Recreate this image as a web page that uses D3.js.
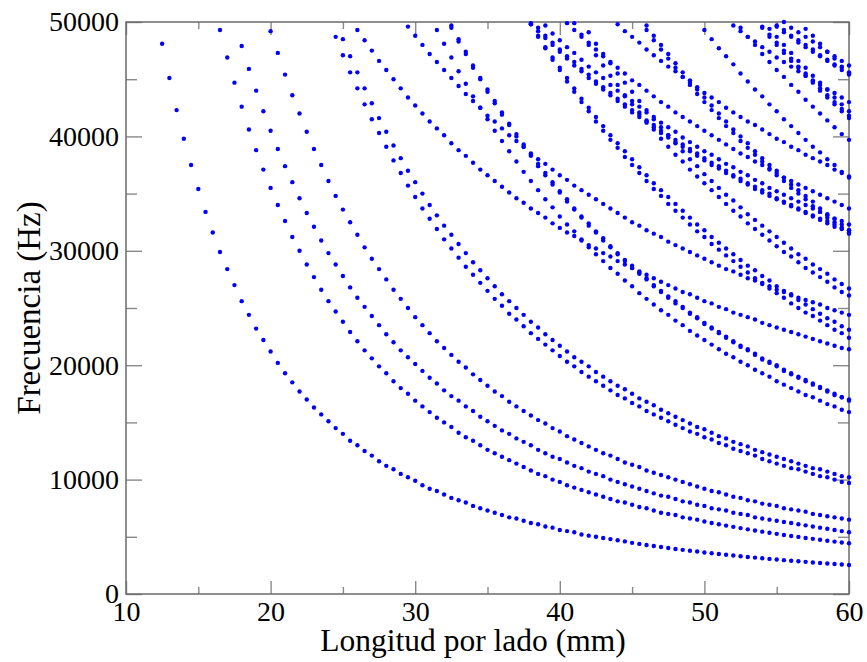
<!DOCTYPE html>
<html>
<head>
<meta charset="utf-8">
<script src="https://cdn.jsdelivr.net/npm/d3@7"></script>
<style>
  html, body { margin: 0; padding: 0; background: #fff; }
  svg { display: block; }
</style>
</head>
<body>
<svg id="chart" width="867" height="662"></svg>
<script>
// Longitud por lado (mm): every curve is sampled on this grid, each one ends at 60 mm
const lengths = [12.5,13,13.5,14,14.5,15,15.5,16,16.5,17,17.5,18,18.5,19,19.5,20,20.5,21,21.5,22,22.5,23,23.5,24,
  24.5,25,25.5,26,26.5,27,27.5,28,28.5,29,29.5,30,30.5,31,31.5,32,32.5,33,33.5,34,34.5,35,35.5,36,36.5,37,
  37.5,38,38.5,39,39.5,40,40.5,41,41.5,42,42.5,43,43.5,44,44.5,45,45.5,46,46.5,47,47.5,48,48.5,49,49.5,50,
  50.5,51,51.5,52,52.5,53,53.5,54,54.5,55,55.5,56,56.5,57,57.5,58,58.5,59,59.5,60];

// Frecuencia (Hz) of each mode (last value = 60 mm)
const modo01 = [48100,45100,42300,39800,37500,35400,33400,31600,29900,28400,27000,25600,24400,23200,22200,21200,20200,19300,18500,17700,17000,16300,15700,15100,14500,
  14000,13400,13000,12500,12100,11600,11200,10900,10500,10200,9900,9500,9200,9000,8700,8400,8200,8000,7700,7500,7300,7100,6900,6700,6600,
  6400,6200,6100,5900,5800,5600,5500,5400,5200,5100,5000,4900,4800,4700,4600,
  4470,4380,4280,4190,4110,4020,3940,3860,3780,3710,3630,3560,3500,3430,3360,3300,3240,3180,3120,3070,3010,2960,2910,2860,2810,2760,2710,2670,2620,2580,2535];
const modo02 = [49300,46900,44700,42600,40600,38800,37100,35500,34000,32600,31200,30000,28800,27700,26600,25600,24700,23800,22900,22100,21300,20600,19900,19300,18600,
  18000,17500,16900,16400,15900,15400,15000,14600,14100,13700,13400,13000,12600,12300,12000,11700,11400,11100,10800,10500,10300,10000,9800,9500,9300,
  9100,8900,8700,8500,8300,8100,8000,7800,7600,7500,7300,7100,7000,6900,6700,6600,6500,
  6340,6210,6100,5980,5870,5760,5650,5550,5450,5350,5260,5160,5070,4990,4900,4820,4740,4660,4580,4500,4430];
const modo03 = [47900,45900,44000,42200,40500,38900,37400,36000,34600,33300,32100,30900,29800,28800,27800,26800,25900,25100,24300,23500,22700,22000,21300,20700,20100,
  19500,18900,18400,17800,17300,16900,16400,16000,15500,15100,14700,14300,14000,13600,13300,13000,12600,12300,12000,11800,11500,11200,11000,10700,10500,
  10300,10000,9800,9600,9400,9200,9000,8800,8600,8500,8300,8100,8000,7800,7700,7500,7400,7300,7100,7000,6900,6700,6600,6500,6400,
  6300,6200,6100,6000,5900,5800,5700,5600,5500,5400];
const modo04 = [49200,47300,45400,43600,42000,40400,38900,37500,36100,34800,33600,32500,31400,30300,29300,28400,27500,26600,25800,25000,24200,23500,22800,22100,21500,
  20900,20300,19800,19200,18700,18200,17700,17300,16800,16400,16000,15600,15200,14900,14500,14200,13800,13500,13200,12900,12600,12300,12100,11800,11500,
  11300,11100,10800,10600,10400,10200,10000,9800,9600,9400,9200,9000,8900,8700,8500,8400,8200,8100,7900,7800,7700,7500,7400,7300,7200,
  7000,6900,6800,6700,6600,6500];
const modo05 = [48700,47100,45600,44200,42800,41500,40300,39100,37900,36800,35700,34700,33700,32800,31900,31000,30200,29400,28600,27900,27200,26500,25800,25200,24500,
  24000,23400,22800,22300,21800,21300,20800,20300,19900,19400,19000,18600,18200,17800,17400,17100,16700,16400,16000,15700,15400,15100,14800,14500,14200,
  14000,13700,13500,13200,13000,12700,12500,12300,12100,11800,11600,11400,11200,11000,10900,10700,10500,10300,10200,10000,9800,9700];
const modo06 = [48500,47000,45600,44200,42900,41600,40400,39200,38100,37000,36000,35000,34000,33100,32200,31400,30600,29800,29000,28300,27600,26900,26200,25600,25000,
  24400,23800,23300,22700,22200,21700,21200,20700,20300,19900,19400,19000,18600,18200,17900,17500,17100,16800,16500,16100,15800,15500,15200,14900,14600,
  14400,14100,13800,13600,13300,13100,12900,12600,12400,12200,12000,11800,11600,11400,11200,11000,10900,10700,10500,10300,10200];
const modo07 = [49300,48100,46900,45700,44600,43500,42500,41500,40500,39600,38700,37800,36900,36100,35300,34500,33800,33000,32300,31700,31000,30300,29700,29100,28500,
  28000,27400,26900,26300,25800,25300,24800,24400,23900,23500,23000,22600,22200,21800,21400,21000,20700,20300,20000,19600,19300,19000,18600,18300,18000,
  17700,17400,17200,16900,16600,16400,16100,15900];
const modo08 = [49500,48300,47200,46000,45000,43900,42900,41900,41000,40000,39100,38300,37400,36600,35800,35100,34300,33600,32900,32200,31600,30900,30300,29700,29100,
  28500,28000,27500,26900,26400,25900,25400,25000,24500,24100,23600,23200,22800,22400,22000,21600,21300,20900,20500,20200,19900,19500,19200,18900,18600,
  18300,18000,17700,17400,17200,16900];
const modo09 = [49700,48500,47400,46200,45100,44100,43100,42100,41100,40200,39300,38400,37600,36800,36000,35200,34500,33700,33000,32400,31700,31100,30400,29800,29200,
  28700,28100,27600,27000,26500,26000,25600,25100,24600,24200,23700,23300,22900,22500,22100,21700,21400,21000,20600,20300,20000,19600,19300,19000,18700,
  18400,18100,17800,17500,17200,17000];
const modo10 = [49800,48700,47700,46700,45800,44800,43900,43000,42200,41300,40500,39700,39000,38200,37500,36800,36100,35400,34800,34100,33500,32900,32300,31700,31200,
  30600,30100,29600,29100,28600,28100,27600,27200,26700,26300,25900,25400,25000,24600,24300,23900,23500,23100,22800,22400];
const modo11 = [49800,48800,47800,46900,46000,45100,44200,43300,42500,41700,40900,40100,39400,38700,38000,37300,36600,35900,35300,34700,34100,33500,32900,32300,31800,
  31200,30700,30200,29700,29200,28700,28300,27800,27400,26900,26500,26100,25700,25300,24900,24500,24100,23800,23400,23100];
const modo12 = [49900,48900,48000,47100,46200,45300,44500,43600,42800,42100,41300,40600,39800,39100,38400,37800,37100,36500,35900,35300,34700,34100,33500,33000,32400,
  31900,31400,30900,30400,29900,29500,29000,28500,28100,27700,27300,26800,26400,26100];
const modo13 = [49100,48100,47200,46400,45500,44700,43900,43100,42300,41500,40800,40100,39400,38700,38000,37400,36700,36100,35500,34900,34400,33800,33200,32700,32200,
  31700,31200,30700,30200,29700,29300,28800,28400,28000,27500,27100,26700];
const modo14 = [49300,48400,47600,46800,46000,45200,44500,43700,43000,42300,41600,40900,40300,39600,39000,38400,37800,37200,36600,36100,35500,35000,34500,33900,33400,
  32900,32500,32000,31500];
const modo15 = [49700,48800,48000,47200,46400,45600,44900,44100,43400,42700,42000,41300,40600,40000,39400,38700,38100,37500,37000,36400,35800,35300,34800,34300,33700,
  33200,32800,32300,31800];
const modo16 = [49300,48500,47700,47000,46300,45500,44800,44100,43500,42800,42200,41500,40900,40300,39700,39100,38600,38000,37500,36900,36400];
const modo17 = [49500,48700,48000,47200,46500,45800,45200,44500,43900,43200,42600,42000,41400,40800,40200,39700];
const modo18 = [49500,48700,48000,47300,46600,46000,45300,44700,44000,43400,42800,42200,41600];
const modo19 = [49600,48900,48200,47500,46800,46100,45500,44800,44200,43600,43000,42400,41800];
const modo20 = [49400,48700,48000,47300,46600,46000,45300,44700,44100,43400,42800,42200];
const modo21 = [49400,48800,48100,47400,46800,46100,45500];
const modo22 = [49300,48400,47500,46600,45800,45000,44200,43400,42700,42000,41300,40700,40100,39400,38800,38300,37700,37100,36600,36100,35600,35100,34600,34200,33700,
  33300,32900,32400,32000,31600,31300,30900,30500,30200,29800,29500,29100,28800,28500,28200,27900,27600,27300,27000,26700,26400,26200,25900,25600,25400,
  25100,24900,24600,24400,24200,24000,23700,23500,23300,23100,22900,22700,22500,22300,22100,21900,21700,21500,21400];
const modo23 = [49600,48800,48000,47200,46500,45800,45100,44400,43700,43100,42500,41800,41300,40700,40100,39600,39100,38500,38000,37600,37100,36600,36200,35700,35300,
  34900,34500,34100,33700,33300,32900,32500,32200,31800,31500,31200,30800,30500,30200,29900,29600,29300,29000,28700,28400,28200,27900,27600,27400,27100,
  26900,26600,26400,26200,25900,25700,25500,25300,25000,24800,24600,24400];
const modo24 = [49900,49200,48600,48000,47400,46800,46200,45700,45100,44600,44100,43600,43100,42600,42100,41700,41200,40800,40300,39900,39500,39100,38700,38300,37900,
  37500,37200,36800,36500,36100,35800,35400,35100,34800,34500,34200,33900,33600,33300,33000,32700,32400,32100,31900,31600];
const modo25 = [49500,48800,48200,47600,47000,46500,45900,45400,44800,44300,43800,43300,42800,42300,41900,41400,41000,40500,40100,39700,39300,38900,38500,38100,37700,
  37400,37000,36600,36300,35900,35600,35300,35000,34600,34300,34000,33700,33400,33100,32800,32600,32300,32000,31800];
const modo26 = [49700,49000,48400,47800,47300,46700,46100,45600,45100,44500,44000,43500,43100,42600,42100,41700,41200,40800,40400,39900,39500,39100,38700,38400,38000,
  37600,37300,36900,36600,36200,35900,35500,35200,34900,34600,34300,34000,33700,33400,33100,32800,32600,32300];
const modo27 = [49900,49300,48700,48200,47600,47000,46500,46000,45500,44900,44500,44000,43500,43000,42600,42100,41700,41300,40900,40500,40100,39700,39300,38900,38500,
  38200,37800,37500,37100,36800,36400,36100,35800,35500,35200,34900,34600,34300,34000,33700];
const modo28 = [49800,49200,48700,48200,47600,47100,46600,46100,45700,45200,44700,44300,43800,43400,43000,42500,42100,41700,41300,41000,40600,40200,39800,39500,39100,
  38800,38400,38100,37800,37500,37100,36800,36500];
const modo29 = [49700,49200,48700,48300,47800,47400,46900,46500,46100,45700,45300,44900,44500,44100,43800,43400,43000];
const modo30 = [49600,49100,48700,48200,47800,47400,47000,46600,46200,45800,45400];
const modo31 = [49700,49300,48800,48400,48000,47600,47100,46700,46300,46000,45600];
const modo32 = [50000,49500,49100,48700,48300,47800,47400,47000,46600,46200];

const modos = [modo01, modo02, modo03, modo04, modo05, modo06, modo07, modo08, modo09, modo10, modo11,
  modo12, modo13, modo14, modo15, modo16, modo17, modo18, modo19, modo20, modo21, modo22, modo23,
  modo24, modo25, modo26, modo27, modo28, modo29, modo30, modo31, modo32];

const xMajor = [10, 20, 30, 40, 50, 60];
const xMinor = [15, 25, 35, 45, 55];
const yMajor = [0, 10000, 20000, 30000, 40000, 50000];
const yMinor = [5000, 15000, 25000, 35000, 45000];

const svg = d3.select('#chart');
const x = d3.scaleLinear().domain([10, 60]).range([126, 849]);
const y = d3.scaleLinear().domain([0, 50000]).range([594, 22]);

const font = '"Liberation Serif", "Times New Roman", Times, serif';

function ticks(axis, values, size, labels) {
  return axis.tickValues(values).tickSize(size).tickPadding(labels ? 7 : 0)
    .tickFormat(labels ? d3.format('d') : '');
}

// grace-style frame: inward ticks on all four sides, labels only bottom and left
const axes = svg.append('g');
axes.append('g').attr('transform', 'translate(0,594)').call(ticks(d3.axisBottom(x), xMinor, -7, false));
axes.append('g').attr('transform', 'translate(0,594)').call(ticks(d3.axisBottom(x), xMajor, -13, true));
axes.append('g').attr('transform', 'translate(0,22)').call(ticks(d3.axisTop(x), xMinor, -7, false));
axes.append('g').attr('transform', 'translate(0,22)').call(ticks(d3.axisTop(x), xMajor, -13, false));
axes.append('g').attr('transform', 'translate(126,0)').call(ticks(d3.axisLeft(y), yMinor, -11, false));
axes.append('g').attr('transform', 'translate(126,0)').call(ticks(d3.axisLeft(y), yMajor, -16, true));
axes.append('g').attr('transform', 'translate(849,0)').call(ticks(d3.axisRight(y), yMinor, -11, false));
axes.append('g').attr('transform', 'translate(849,0)').call(ticks(d3.axisRight(y), yMajor, -16, false));
axes.selectAll('.domain').remove();
axes.selectAll('g').attr('font-family', font).attr('font-size', 28);
axes.selectAll('.tick line').attr('stroke', '#8a8a8a').attr('stroke-width', 1.4);
axes.selectAll('.tick text').attr('fill', '#000')
  .style('font-family', font).style('font-size', '28px');

svg.append('rect')
  .attr('x', x(10)).attr('y', y(50000))
  .attr('width', x(60) - x(10)).attr('height', y(0) - y(50000))
  .attr('fill', 'none').attr('stroke', '#6a6a6a').attr('stroke-width', 1.5);

const dots = svg.append('g').attr('fill', '#0000ff');
modos.forEach(vals => {
  const ls = lengths.slice(lengths.length - vals.length);
  dots.selectAll(null)
    .data(vals.map((f, i) => ({ l: ls[i], f })))
    .join('circle')
    .attr('cx', d => x(d.l))
    .attr('cy', d => y(d.f))
    .attr('r', 2.2);
});

svg.append('text')
  .attr('x', 473).attr('y', 651)
  .attr('text-anchor', 'middle')
  .style('font-family', font).style('font-size', '31.5px')
  .text('Longitud por lado (mm)');

svg.append('text')
  .attr('transform', 'translate(40,308) rotate(-90)')
  .attr('text-anchor', 'middle')
  .style('font-family', font).style('font-size', '33px')
  .text('Frecuencia (Hz)');
</script>
</body>
</html>
